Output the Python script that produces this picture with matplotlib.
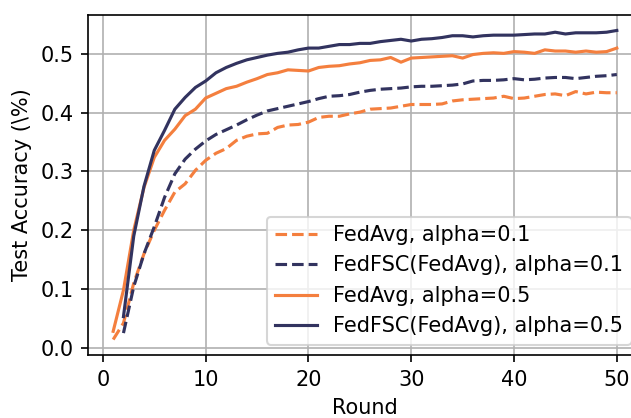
import matplotlib
matplotlib.use('Agg')
import matplotlib.pyplot as plt

rounds_avg = list(range(1, 51))
rounds_fsc = list(range(2, 51))

fedavg_01 = [0.014, 0.042, 0.110, 0.160, 0.200, 0.234, 0.265, 0.279, 0.302, 0.319,
             0.331, 0.339, 0.353, 0.360, 0.364, 0.365, 0.375, 0.379, 0.380, 0.384,
             0.392, 0.394, 0.394, 0.398, 0.401, 0.406, 0.407, 0.408, 0.411, 0.414,
             0.414, 0.414, 0.415, 0.420, 0.422, 0.423, 0.424, 0.425, 0.428, 0.424,
             0.425, 0.428, 0.431, 0.432, 0.429, 0.436, 0.432, 0.435, 0.434, 0.434]

fedfsc_01 = [0.025, 0.104, 0.160, 0.206, 0.256, 0.296, 0.321, 0.338, 0.352,
             0.363, 0.371, 0.379, 0.388, 0.396, 0.403, 0.407, 0.411, 0.415, 0.419,
             0.424, 0.428, 0.429, 0.431, 0.435, 0.438, 0.440, 0.441, 0.442, 0.444,
             0.445, 0.445, 0.446, 0.447, 0.449, 0.454, 0.455, 0.455, 0.456, 0.458,
             0.456, 0.457, 0.459, 0.460, 0.460, 0.458, 0.460, 0.462, 0.463, 0.465]

fedavg_05 = [0.028, 0.098, 0.200, 0.273, 0.324, 0.353, 0.372, 0.395, 0.406, 0.425,
             0.433, 0.441, 0.445, 0.452, 0.458, 0.465, 0.468, 0.473, 0.472, 0.471,
             0.477, 0.479, 0.480, 0.483, 0.485, 0.489, 0.490, 0.494, 0.486, 0.493,
             0.494, 0.495, 0.496, 0.497, 0.493, 0.499, 0.501, 0.502, 0.501, 0.504,
             0.503, 0.501, 0.507, 0.505, 0.505, 0.503, 0.505, 0.503, 0.504, 0.510]

fedfsc_05 = [0.053, 0.190, 0.275, 0.336, 0.370, 0.406, 0.426, 0.443, 0.454,
             0.468, 0.477, 0.484, 0.490, 0.494, 0.498, 0.501, 0.503, 0.507, 0.510,
             0.510, 0.513, 0.516, 0.516, 0.518, 0.518, 0.521, 0.523, 0.525, 0.522,
             0.525, 0.526, 0.528, 0.531, 0.531, 0.529, 0.531, 0.532, 0.532, 0.532,
             0.533, 0.534, 0.534, 0.537, 0.534, 0.536, 0.536, 0.536, 0.537, 0.540]

orange = '#F47F3E'
navy = '#32335F'

dpi = 150
fig = plt.figure(figsize=(632 / dpi, 418 / dpi), dpi=dpi)
# axes run past the right/bottom edge like the cropped original
ax = fig.add_axes([88 / 632, 1 - 355 / 418, (642 - 88) / 632, (355 - 15) / 418])

ax.plot(rounds_avg, fedavg_01, '--', color=orange, lw=1.5, label='FedAvg, alpha=0.1')
ax.plot(rounds_fsc, fedfsc_01, '--', color=navy, lw=1.5, label='FedFSC(FedAvg), alpha=0.1')
ax.plot(rounds_avg, fedavg_05, '-', color=orange, lw=1.5, label='FedAvg, alpha=0.5')
ax.plot(rounds_fsc, fedfsc_05, '-', color=navy, lw=1.5, label='FedFSC(FedAvg), alpha=0.5')

ax.set_xticks([0, 10, 20, 30, 40, 50])
ax.set_yticks([0.0, 0.1, 0.2, 0.3, 0.4, 0.5])
ax.grid(True)
ax.spines['right'].set_visible(False)
ax.set_xlabel('Round')
ax.set_ylabel('Test Accuracy (\\%)')
ax.legend(loc='lower right')

fig.savefig('out.png', dpi=dpi)
